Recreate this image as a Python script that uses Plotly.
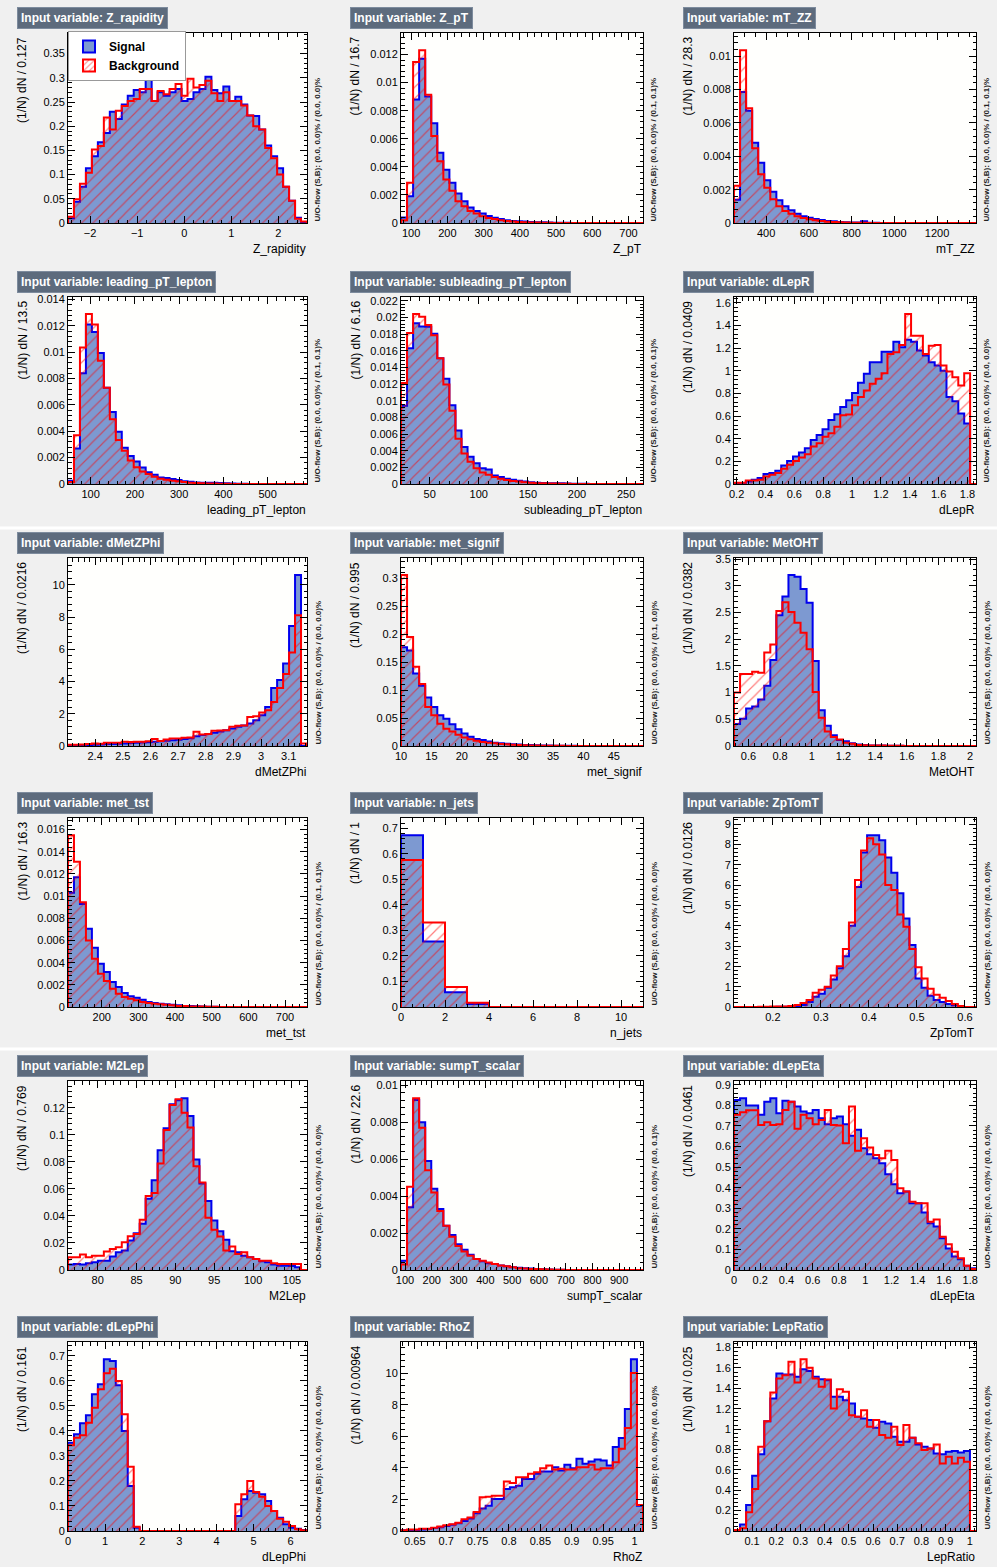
import numpy as np
import plotly.graph_objects as go

W, H = 997, 1567
FONT = "Liberation Sans"
SIG_FILL = "#7d99d1"
SIG_LINE = "#0000ee"
BKG_LINE = "#ff0000"

# ---------------- data (normalised histograms) ----------------
z_rapidity_sig = [0.010, 0.044, 0.075, 0.113, 0.138, 0.167, 0.186, 0.230, 0.215, 0.245, 0.263, 0.275, 0.270, 0.296,
                  0.252, 0.270, 0.263, 0.270, 0.277, 0.252, 0.256, 0.270, 0.277, 0.302, 0.275, 0.268, 0.282, 0.252,
                  0.261, 0.245, 0.222, 0.221, 0.193, 0.160, 0.138, 0.113, 0.075, 0.046, 0.011, 0.002]
z_rapidity_bkg = [0.013, 0.049, 0.081, 0.104, 0.152, 0.159, 0.218, 0.193, 0.232, 0.242, 0.252, 0.256, 0.277, 0.277,
                  0.252, 0.273, 0.266, 0.277, 0.287, 0.263, 0.298, 0.280, 0.285, 0.294, 0.268, 0.252, 0.270, 0.252,
                  0.252, 0.243, 0.222, 0.200, 0.193, 0.155, 0.134, 0.100, 0.075, 0.046, 0.009, 0.003]

z_pt_sig = [0.0004, 0.0019, 0.0088, 0.0117, 0.0090, 0.0071, 0.0050, 0.0038, 0.00286, 0.0021, 0.00155, 0.0011,
            0.00086, 0.00067, 0.0005, 0.00038, 0.00029, 0.0002, 0.00015, 0.00012, 0.0001, 0.00008, 0.00006, 0.00005,
            0.00003, 0.00002, 0.00002, 0.00001, 0, 0, 0, 0, 0, 0, 0, 0, 0, 0, 0, 0]
z_pt_bkg = [0.0002, 0.00286, 0.01146, 0.0123, 0.00914, 0.0062, 0.0044, 0.0031, 0.0023, 0.00155, 0.0012, 0.00086,
            0.00067, 0.00048, 0.00036, 0.00029, 0.0002, 0.00014, 0.0001, 0.00007, 0.00005, 0.00004, 0.00003, 0.00002,
            0.00001, 0, 0, 0, 0, 0, 0, 0, 0, 0, 0, 0, 0, 0, 0, 0]

mt_zz_sig = [0.0014, 0.00785, 0.00673, 0.00482, 0.00361, 0.00257, 0.00187, 0.00137, 0.0010, 0.00076, 0.00056, 0.0004,
             0.00032, 0.00024, 0.00018, 0.00012, 0.0001, 0.00006, 0.00004, 0.00003, 0.00003, 0.0001, 0.00002, 0.00001,
             0, 0, 0, 0, 0, 0, 0, 0, 0, 0, 0, 0, 0, 0, 0, 0]
mt_zz_bkg = [0.00223, 0.01036, 0.00689, 0.00448, 0.00293, 0.00211, 0.00143, 0.0010, 0.00072, 0.00056, 0.0004, 0.0003,
             0.00022, 0.00016, 0.00012, 0.00008, 0.00006, 0.00004, 0.00003, 0.00002, 0.00001, 0.00001, 0, 0,
             0, 0, 0, 0, 0, 0, 0, 0, 0, 0, 0, 0, 0, 0, 0, 0]

lead_pt_sig = [0.00025, 0.0027, 0.0084, 0.0121, 0.01154, 0.00994, 0.0073, 0.00547, 0.00396, 0.00276, 0.00213, 0.0017,
               0.00125, 0.0009, 0.0007, 0.0005, 0.00045, 0.00038, 0.0003, 0.0002, 0.00018, 0.00012, 0.0001, 0.0001,
               0.0001, 0.00008, 0.00005, 0.00003, 0.00002, 0.00001, 0, 0, 0, 0, 0, 0, 0, 0, 0, 0]
lead_pt_bkg = [0.00015, 0.0037, 0.01036, 0.0129, 0.0121, 0.00936, 0.0073, 0.00492, 0.00334, 0.00253, 0.00178, 0.00128,
               0.00095, 0.00075, 0.00055, 0.0004, 0.00033, 0.00025, 0.0002, 0.00015, 0.0001, 0.00008, 0.00005, 0.00004,
               0.00003, 0.00002, 0.00001, 0, 0, 0, 0, 0, 0, 0, 0, 0, 0, 0, 0, 0]

sublead_pt_sig = [0.0094, 0.0163, 0.01933, 0.01894, 0.0189, 0.01807, 0.0151, 0.01266, 0.00947, 0.00643, 0.00446,
                  0.00327, 0.00249, 0.0019, 0.00174, 0.00103, 0.00083, 0.00063, 0.0005, 0.0004, 0.0003, 0.0002,
                  0.00015, 0.00012, 0.0001, 0.0001, 0.00008, 0.00006, 0.00004, 0.00003, 0.00002, 0.00001,
                  0, 0, 0, 0, 0, 0, 0, 0]
sublead_pt_bkg = [0.01215, 0.01815, 0.02043, 0.0201, 0.0191, 0.01787, 0.0151, 0.01195, 0.0088, 0.00544, 0.00367,
                  0.00268, 0.0019, 0.00138, 0.0011, 0.00083, 0.00063, 0.00047, 0.00035, 0.0003, 0.0002, 0.00015,
                  0.0001, 0.00008, 0.00006, 0.00005, 0.00003, 0.00002, 0.00001, 0, 0, 0, 0, 0, 0, 0, 0, 0, 0, 0]

dlepr_sig = [0.0, 0.005, 0.023, 0.038, 0.053, 0.088, 0.096, 0.117, 0.164, 0.204, 0.242, 0.277, 0.315, 0.388, 0.432,
             0.482, 0.564, 0.616, 0.680, 0.739, 0.803, 0.893, 0.972, 1.074, 1.074, 1.168, 1.168, 1.255, 1.206, 1.273,
             1.255, 1.177, 1.133, 1.074, 1.045, 1.000, 0.768, 0.730, 0.622, 0.534, 0.0]
dlepr_bkg = [0.01, 0.01, 0.03, 0.03, 0.038, 0.067, 0.082, 0.096, 0.134, 0.169, 0.204, 0.234, 0.263, 0.330, 0.359,
             0.418, 0.447, 0.505, 0.607, 0.613, 0.695, 0.768, 0.826, 0.885, 0.928, 0.978, 1.147, 1.162, 1.226, 1.500,
             1.308, 1.308, 1.147, 1.220, 1.226, 1.045, 0.993, 0.943, 0.870, 0.978, 0.0]

dmetzphi_sig = [0.04, 0.04, 0.05, 0.06, 0.08, 0.10, 0.12, 0.12, 0.14, 0.16, 0.18, 0.20, 0.22, 0.24, 0.27, 0.30, 0.33,
                0.36, 0.39, 0.43, 0.48, 0.60, 0.68, 0.74, 0.82, 0.90, 0.98, 1.09, 1.20, 1.27, 1.39, 1.60, 1.90, 2.42,
                3.60, 4.10, 5.12, 7.44, 10.6, 0.0]
dmetzphi_bkg = [0.08, 0.08, 0.10, 0.12, 0.16, 0.14, 0.20, 0.20, 0.20, 0.27, 0.25, 0.27, 0.27, 0.30, 0.43, 0.31, 0.40,
                0.47, 0.47, 0.51, 0.52, 0.88, 0.72, 0.74, 0.94, 0.96, 0.98, 1.19, 1.25, 1.27, 1.80, 1.84, 2.07, 2.21,
                2.73, 3.60, 4.47, 5.80, 8.11, 0.16]

met_signif_sig = [0.177, 0.171, 0.130, 0.108, 0.087, 0.070, 0.055, 0.049, 0.039, 0.030, 0.0225, 0.0166, 0.0125,
                  0.0107, 0.008, 0.006, 0.0048, 0.004, 0.0033, 0.0027, 0.002, 0.0016, 0.0013, 0.001, 0.0008, 0.0006,
                  0.0005, 0.0004, 0.0003, 0.0002, 0.0001, 0, 0, 0, 0, 0, 0, 0, 0, 0]
met_signif_bkg = [0.306, 0.195, 0.142, 0.111, 0.070, 0.055, 0.040, 0.031, 0.026, 0.020, 0.015, 0.012, 0.0095, 0.007,
                  0.006, 0.0047, 0.0035, 0.003, 0.0022, 0.0018, 0.0013, 0.001, 0.0008, 0.0006, 0.0005, 0.0004, 0.0003,
                  0.0002, 0.0002, 0.0001, 0, 0, 0, 0, 0, 0, 0, 0, 0, 0]

metoht_sig = [0.41, 0.51, 0.70, 0.74, 0.87, 1.13, 1.61, 2.45, 2.80, 3.20, 3.17, 2.94, 2.68, 1.59, 0.67, 0.38, 0.20,
              0.11, 0.09, 0.05, 0.03, 0.02, 0.01, 0.01, 0.01, 0.005, 0.005, 0.003, 0.002, 0.001, 0, 0, 0, 0, 0, 0, 0,
              0, 0, 0]
metoht_bkg = [1.00, 1.35, 1.35, 1.39, 1.37, 1.75, 1.90, 2.53, 2.69, 2.51, 2.31, 2.12, 1.81, 1.01, 0.53, 0.27, 0.17,
              0.12, 0.06, 0.04, 0.02, 0.015, 0.01, 0.01, 0.01, 0.005, 0.005, 0.003, 0.002, 0.001, 0, 0, 0, 0, 0, 0, 0,
              0, 0, 0]

met_tst_sig = [0.0103, 0.0117, 0.0093, 0.00706, 0.00535, 0.0039, 0.00315, 0.00225, 0.0018, 0.00126, 0.00096, 0.00084,
               0.00066, 0.00045, 0.00036, 0.0003, 0.00025, 0.0002, 0.00015, 0.0001, 0.00008, 0.00006, 0.00005,
               0.00003, 0.00002, 0.00001, 0, 0, 0, 0, 0, 0, 0, 0, 0, 0, 0, 0, 0, 0]
met_tst_bkg = [0.0155, 0.0131, 0.00946, 0.0060, 0.00435, 0.0030, 0.00234, 0.00165, 0.0012, 0.0009, 0.00075, 0.0006,
               0.00045, 0.00036, 0.0003, 0.00025, 0.0002, 0.00015, 0.0001, 0.0001, 0.00005, 0.00005, 0.00004,
               0.00003, 0.00002, 0.00001, 0, 0, 0, 0, 0, 0, 0, 0, 0, 0, 0, 0, 0, 0]

n_jets_sig = [0.673, 0.257, 0.058, 0.012, 0, 0, 0, 0, 0, 0, 0]
n_jets_bkg = [0.576, 0.331, 0.078, 0.017, 0, 0, 0, 0, 0, 0, 0]

zptomt_sig = [0, 0, 0, 0, 0, 0.005, 0.005, 0.01, 0.01, 0.02, 0.05, 0.10, 0.25, 0.50, 0.65, 0.95, 1.35, 1.90, 2.50,
              4.00, 5.90, 7.60, 8.45, 8.45, 8.20, 7.35, 6.60, 5.60, 4.35, 3.05, 1.40, 0.95, 0.55, 0.35, 0.25, 0.15,
              0.08, 0.03, 0.0, 0.0]
zptomt_bkg = [0, 0, 0, 0.005, 0.01, 0.01, 0.02, 0.02, 0.03, 0.05, 0.10, 0.20, 0.35, 0.70, 0.85, 1.00, 1.55, 2.00, 2.85,
              4.15, 6.25, 7.70, 8.30, 8.00, 7.50, 6.00, 5.75, 4.55, 3.95, 2.85, 1.95, 1.40, 0.90, 0.60, 0.45, 0.30,
              0.15, 0.05, 0.0, 0.0]

m2lep_sig = [0.004, 0.0045, 0.004, 0.005, 0.0057, 0.0069, 0.0069, 0.0099, 0.0131, 0.0144, 0.0218, 0.0272, 0.0342,
             0.0527, 0.0663, 0.0886, 0.1047, 0.1225, 0.1255, 0.1270, 0.1139, 0.0817, 0.0639, 0.051, 0.0366, 0.0287,
             0.0223, 0.0139, 0.0131, 0.0106, 0.0094, 0.0082, 0.0064, 0.0057, 0.004, 0.0032, 0.0032, 0.003, 0.002, 0.0]
m2lep_bkg = [0.0094, 0.0094, 0.0114, 0.0094, 0.0106, 0.0106, 0.0136, 0.0156, 0.0168, 0.0205, 0.025, 0.0267, 0.0371,
             0.0547, 0.0569, 0.0787, 0.1035, 0.122, 0.1262, 0.1163, 0.1054, 0.0767, 0.0646, 0.0386, 0.0297, 0.0248,
             0.0144, 0.0173, 0.0119, 0.0131, 0.0094, 0.0082, 0.0069, 0.0069, 0.005, 0.0045, 0.0045, 0.0045, 0.0045,
             0.0]

sumpt_sig = [0.0005, 0.0034, 0.0092, 0.008, 0.0059, 0.0044, 0.0033, 0.0024, 0.0019, 0.0014, 0.0011, 0.00083, 0.0006,
             0.00047, 0.00036, 0.00032, 0.00025, 0.0002, 0.00015, 0.00012, 0.0001, 0.00008, 0.00006, 0.00004,
             0.00003, 0.00002, 0.00001, 0, 0, 0, 0, 0, 0, 0, 0, 0, 0, 0, 0, 0]
sumpt_bkg = [0.0003, 0.0045, 0.0093, 0.0077, 0.0054, 0.0042, 0.0032, 0.0024, 0.0018, 0.0013, 0.001, 0.00077, 0.0006,
             0.0005, 0.0004, 0.00032, 0.00025, 0.0002, 0.00015, 0.0001, 0.00008, 0.00006, 0.00005, 0.00004,
             0.00003, 0.00002, 0.00001, 0, 0, 0, 0, 0, 0, 0, 0, 0, 0, 0, 0, 0]

dlepeta_sig = [0.826, 0.835, 0.799, 0.799, 0.754, 0.818, 0.835, 0.762, 0.822, 0.818, 0.794, 0.770, 0.762, 0.778,
               0.737, 0.708, 0.737, 0.746, 0.708, 0.653, 0.681, 0.592, 0.562, 0.543, 0.519, 0.465, 0.417, 0.373,
               0.381, 0.324, 0.324, 0.279, 0.227, 0.211, 0.154, 0.105, 0.065, 0.052, 0.021, 0.008]
dlepeta_bkg = [0.754, 0.767, 0.776, 0.776, 0.705, 0.718, 0.705, 0.708, 0.778, 0.818, 0.686, 0.754, 0.737, 0.708,
               0.729, 0.778, 0.705, 0.702, 0.616, 0.794, 0.579, 0.640, 0.595, 0.559, 0.543, 0.579, 0.535, 0.397,
               0.381, 0.332, 0.324, 0.324, 0.235, 0.246, 0.162, 0.125, 0.089, 0.057, 0.021, 0.005]

dlepphi_sig = [0.353, 0.387, 0.431, 0.463, 0.547, 0.587, 0.687, 0.680, 0.583, 0.400, 0.180, 0.013, 0, 0, 0, 0, 0, 0,
               0, 0, 0, 0, 0, 0, 0, 0, 0, 0, 0.060, 0.127, 0.160, 0.153, 0.147, 0.120, 0.080, 0.053, 0.027, 0.013,
               0.009, 0.004]
dlepphi_bkg = [0.343, 0.373, 0.383, 0.433, 0.493, 0.567, 0.631, 0.649, 0.600, 0.467, 0.257, 0.017, 0, 0, 0, 0, 0, 0,
               0, 0, 0, 0, 0, 0, 0, 0, 0, 0, 0.107, 0.147, 0.200, 0.156, 0.137, 0.100, 0.080, 0.049, 0.037, 0.020,
               0.007, 0.003]

rhoz_sig = [0.04, 0.05, 0.07, 0.10, 0.12, 0.19, 0.23, 0.32, 0.40, 0.49, 0.64, 0.79, 1.13, 1.43, 1.60, 2.02, 2.02, 2.66,
            2.77, 2.87, 3.30, 3.30, 3.62, 3.77, 3.77, 4.04, 3.83, 4.19, 3.98, 4.57, 4.26, 4.40, 4.53, 4.47, 4.15, 5.32,
            5.89, 7.72, 10.88, 1.60]
rhoz_bkg = [0.04, 0.10, 0.10, 0.15, 0.15, 0.21, 0.28, 0.36, 0.43, 0.53, 0.74, 0.85, 1.21, 2.13, 2.17, 2.23, 2.23, 3.13,
            3.04, 3.40, 3.40, 3.62, 3.72, 3.98, 4.15, 3.89, 3.94, 3.89, 3.89, 4.04, 4.04, 4.19, 3.89, 3.98, 3.98, 4.36,
            5.21, 6.53, 10.0, 1.64]

lepratio_sig = [0.01, 0.065, 0.255, 0.542, 0.752, 1.078, 1.30, 1.546, 1.536, 1.536, 1.513, 1.588, 1.569, 1.513, 1.49,
                1.48, 1.317, 1.317, 1.284, 1.252, 1.121, 1.105, 1.088, 1.013, 1.072, 1.056, 0.925, 0.876, 0.876,
                0.915, 0.85, 0.827, 0.81, 0.761, 0.752, 0.778, 0.784, 0.771, 0.784, 0.0]
lepratio_bkg = [0.01, 0.026, 0.183, 0.412, 0.827, 1.078, 1.36, 1.497, 1.529, 1.66, 1.458, 1.686, 1.601, 1.497, 1.415,
                1.487, 1.203, 1.392, 1.366, 1.137, 1.121, 1.186, 1.023, 1.088, 0.941, 0.915, 1.023, 0.843, 1.039,
                0.915, 0.86, 0.794, 0.81, 0.85, 0.663, 0.729, 0.663, 0.719, 0.68, 0.0]

variable_names = ["Z_rapidity", "Z_pT", "mT_ZZ", "leading_pT_lepton", "subleading_pT_lepton", "dLepR",
                  "dMetZPhi", "met_signif", "MetOHT", "met_tst", "n_jets", "ZpTomT",
                  "M2Lep", "sumpT_scalar", "dLepEta", "dLepPhi", "RhoZ", "LepRatio"]
hist_xmin = [-2.47, 72.0, 250.0, 49.0, 20.8, 0.182, 2.302, 10.0, 0.509, 108.0, 0.0, 0.119,
             76.18, 85.0, 0.0, 0.0, 0.628, 0.0255]
bin_width = [0.127, 16.7, 28.3, 13.5, 6.16, 0.0409, 0.0216, 0.995, 0.0382, 16.3, 1.0, 0.0126,
             0.769, 22.6, 0.0461, 0.161, 0.00964, 0.025]
signal_hists = [z_rapidity_sig, z_pt_sig, mt_zz_sig, lead_pt_sig, sublead_pt_sig, dlepr_sig, dmetzphi_sig,
                met_signif_sig, metoht_sig, met_tst_sig, n_jets_sig, zptomt_sig, m2lep_sig, sumpt_sig, dlepeta_sig,
                dlepphi_sig, rhoz_sig, lepratio_sig]
background_hists = [z_rapidity_bkg, z_pt_bkg, mt_zz_bkg, lead_pt_bkg, sublead_pt_bkg, dlepr_bkg, dmetzphi_bkg,
                    met_signif_bkg, metoht_bkg, met_tst_bkg, n_jets_bkg, zptomt_bkg, m2lep_bkg, sumpt_bkg,
                    dlepeta_bkg, dlepphi_bkg, rhoz_bkg, lepratio_bkg]
overflow_text = ["(0.0, 0.0)% / (0.0, 0.0)%", "(0.0, 0.0)% / (0.1, 0.1)%", "(0.0, 0.0)% / (0.1, 0.1)%",
                 "(0.0, 0.0)% / (0.1, 0.1)%", "(0.0, 0.0)% / (0.0, 0.1)%", "(0.0, 0.0)% / (0.0, 0.0)%",
                 "(0.0, 0.0)% / (0.0, 0.0)%", "(0.0, 0.0)% / (0.1, 0.0)%", "(0.0, 0.0)% / (0.0, 0.0)%",
                 "(0.0, 0.0)% / (0.1, 0.1)%", "(0.0, 0.0)% / (0.0, 0.0)%", "(0.0, 0.0)% / (0.0, 0.0)%",
                 "(0.0, 0.0)% / (0.0, 0.0)%", "(0.0, 0.0)% / (0.0, 0.1)%", "(0.0, 0.0)% / (0.0, 0.0)%",
                 "(0.0, 0.0)% / (0.0, 0.0)%", "(0.0, 0.0)% / (0.0, 0.0)%", "(0.0, 0.0)% / (0.0, 0.0)%"]

# axis tick steps (major, minor) for x and y
x_ticks = [(1, 0.2), (100, 20), (200, 50), (100, 20), (50, 10), (0.2, 0.04), (0.1, 0.02), (5, 1), (0.2, 0.04),
           (100, 20), (2, 0.5), (0.1, 0.02), (5, 1), (100, 20), (0.2, 0.04), (1, 0.2), (0.05, 0.01), (0.1, 0.02)]
y_ticks = [(0.05, 0.01), (0.002, 0.0004), (0.002, 0.0004), (0.002, 0.0004), (0.002, 0.0004), (0.2, 0.04),
           (2, 0.4), (0.05, 0.01), (0.5, 0.1), (0.002, 0.0004), (0.1, 0.02), (1, 0.2),
           (0.02, 0.004), (0.002, 0.0004), (0.1, 0.02), (0.1, 0.02), (2, 0.4), (0.2, 0.04)]

# ---------------- layout geometry (pixels) ----------------
col_left = [68, 401, 734]
col_right = [307, 643, 976]
row_top = [33, 297, 558, 818, 1081, 1342]
row_bot = [223, 484, 746, 1007, 1270, 1531]


def px_x(p):
    return p / W


def px_y(p):
    return 1 - p / H


def step_xy(xmin, w, vals):
    vals = np.asarray(vals, dtype=float)
    edges = xmin + w * np.arange(len(vals) + 1)
    xs = np.concatenate([[edges[0]], edges[:-1], [edges[-1], edges[-1]]])
    ys = np.concatenate([[0.0], vals, [vals[-1], 0.0]])
    return xs, ys


fig = go.Figure()
annotations = []
axis_font = dict(family=FONT, size=11, color="black")

for i, name in enumerate(variable_names):
    r, c = divmod(i, 3)
    k = i + 1
    xa = "x" if k == 1 else f"x{k}"
    ya = "y" if k == 1 else f"y{k}"
    xmin, w = hist_xmin[i], bin_width[i]
    s, b = signal_hists[i], background_hists[i]
    n = len(s)
    xmax = xmin + n * w
    ymax = (1.3 if i == 0 else 1.1) * max(max(s), max(b))

    xs, ys = step_xy(xmin, w, s)
    fig.add_trace(go.Scatter(x=xs, y=ys, mode="lines", line=dict(shape="hv", color=SIG_LINE, width=2),
                             fill="tozeroy", fillcolor=SIG_FILL, showlegend=False, hoverinfo="skip",
                             xaxis=xa, yaxis=ya))
    xb, yb = step_xy(xmin, w, b)
    fig.add_trace(go.Scatter(x=xb, y=yb, mode="lines", line=dict(shape="hv", color=BKG_LINE, width=2),
                             fill="tozeroy", fillcolor="rgba(0,0,0,0)",
                             fillpattern=dict(shape="/", fgcolor=BKG_LINE, bgcolor="rgba(0,0,0,0)",
                                              size=8, solidity=0.15, fillmode="overlay"),
                             showlegend=False, hoverinfo="skip", xaxis=xa, yaxis=ya))

    common = dict(showline=True, linecolor="black", linewidth=1, mirror="allticks", ticks="inside",
                  tickcolor="black", tickwidth=1, showgrid=False, zeroline=False, tickfont=axis_font,
                  tick0=0, autorange=False, automargin=False)
    xd, xm = x_ticks[i]
    yd, ym = y_ticks[i]
    fig.layout[f"xaxis{'' if k == 1 else k}"] = dict(
        common, domain=[px_x(col_left[c]), px_x(col_right[c])], anchor=ya, range=[xmin, xmax],
        dtick=xd, ticklen=7,
        minor=dict(ticks="inside", dtick=xm, tick0=0, ticklen=3.5, tickcolor="black", showgrid=False))
    fig.layout[f"yaxis{'' if k == 1 else k}"] = dict(
        common, domain=[px_y(row_bot[r]), px_y(row_top[r])], anchor=xa, range=[0, ymax],
        dtick=yd, ticklen=7,
        minor=dict(ticks="inside", dtick=ym, tick0=0, ticklen=3.5, tickcolor="black", showgrid=False))

    # title box
    annotations.append(dict(text=f"<b>Input variable: {name}</b>", xref="paper", yref="paper",
                            x=px_x(col_left[c] - 51), y=px_y(row_top[r] - 15), xanchor="left", yanchor="middle",
                            showarrow=False, bgcolor="#5D6B7D", bordercolor="#7D8B9D", borderwidth=1, borderpad=3,
                            font=dict(family=FONT, size=12, color="white")))
    # y title
    annotations.append(dict(text=f"(1/N) dN / {w:.3g}", xref="paper", yref="paper", textangle=-90,
                            x=px_x(col_left[c] - 46), y=px_y(row_top[r] + 2), xanchor="center", yanchor="top",
                            showarrow=False, font=dict(family=FONT, size=12, color="black")))
    # x title
    annotations.append(dict(text=name, xref="paper", yref="paper",
                            x=px_x(col_right[c] + 1), y=px_y(row_bot[r] + 26), xanchor="right", yanchor="middle",
                            showarrow=False, font=dict(family=FONT, size=12, color="black")))
    # under/overflow
    annotations.append(dict(text=f"<b>U/O-flow (S,B): {overflow_text[i]}</b>", xref="paper", yref="paper",
                            textangle=-90, x=px_x(col_right[c] + 10.5), y=px_y(row_bot[r] + 1),
                            xanchor="center", yanchor="bottom",
                            showarrow=False, font=dict(family=FONT, size=8, color="#222222")))

# legend entries (first pad)
fig.add_trace(go.Bar(x=[None], y=[None], name="<b>Signal</b>",
                     marker=dict(color=SIG_FILL, line=dict(color=SIG_LINE, width=2)), xaxis="x", yaxis="y"))
fig.add_trace(go.Bar(x=[None], y=[None], name="<b>Background</b>",
                     marker=dict(color="white", line=dict(color=BKG_LINE, width=2),
                                 pattern=dict(shape="/", fgcolor=BKG_LINE, bgcolor="white", size=5,
                                              solidity=0.25)),
                     xaxis="x", yaxis="y"))

shapes = [dict(type="rect", xref="paper", yref="paper", x0=0, x1=1, y0=px_y(529.5), y1=px_y(526.5),
               fillcolor="white", line=dict(width=0), layer="below"),
          dict(type="rect", xref="paper", yref="paper", x0=0, x1=1, y0=px_y(1050.5), y1=px_y(1047.5),
               fillcolor="white", line=dict(width=0), layer="below")]

fig.update_layout(
    width=W, height=H, autosize=False,
    margin=dict(l=0, r=0, t=0, b=0, pad=0),
    paper_bgcolor="#f0f0f0", plot_bgcolor="#fffffd",
    font=dict(family=FONT, size=11, color="black"),
    annotations=annotations, shapes=shapes,
    showlegend=True,
    legend=dict(x=px_x(68), y=px_y(31), xanchor="left", yanchor="top", bgcolor="white",
                bordercolor="#999999", borderwidth=1, font=dict(family=FONT, size=12, color="black"),
                tracegroupgap=0, itemwidth=30),
)

fig.write_html("out.html", config={"displayModeBar": False, "staticPlot": True},
               post_script="document.body.style.margin='0';document.body.style.padding='0';"
                           "document.documentElement.style.overflow='hidden';")
